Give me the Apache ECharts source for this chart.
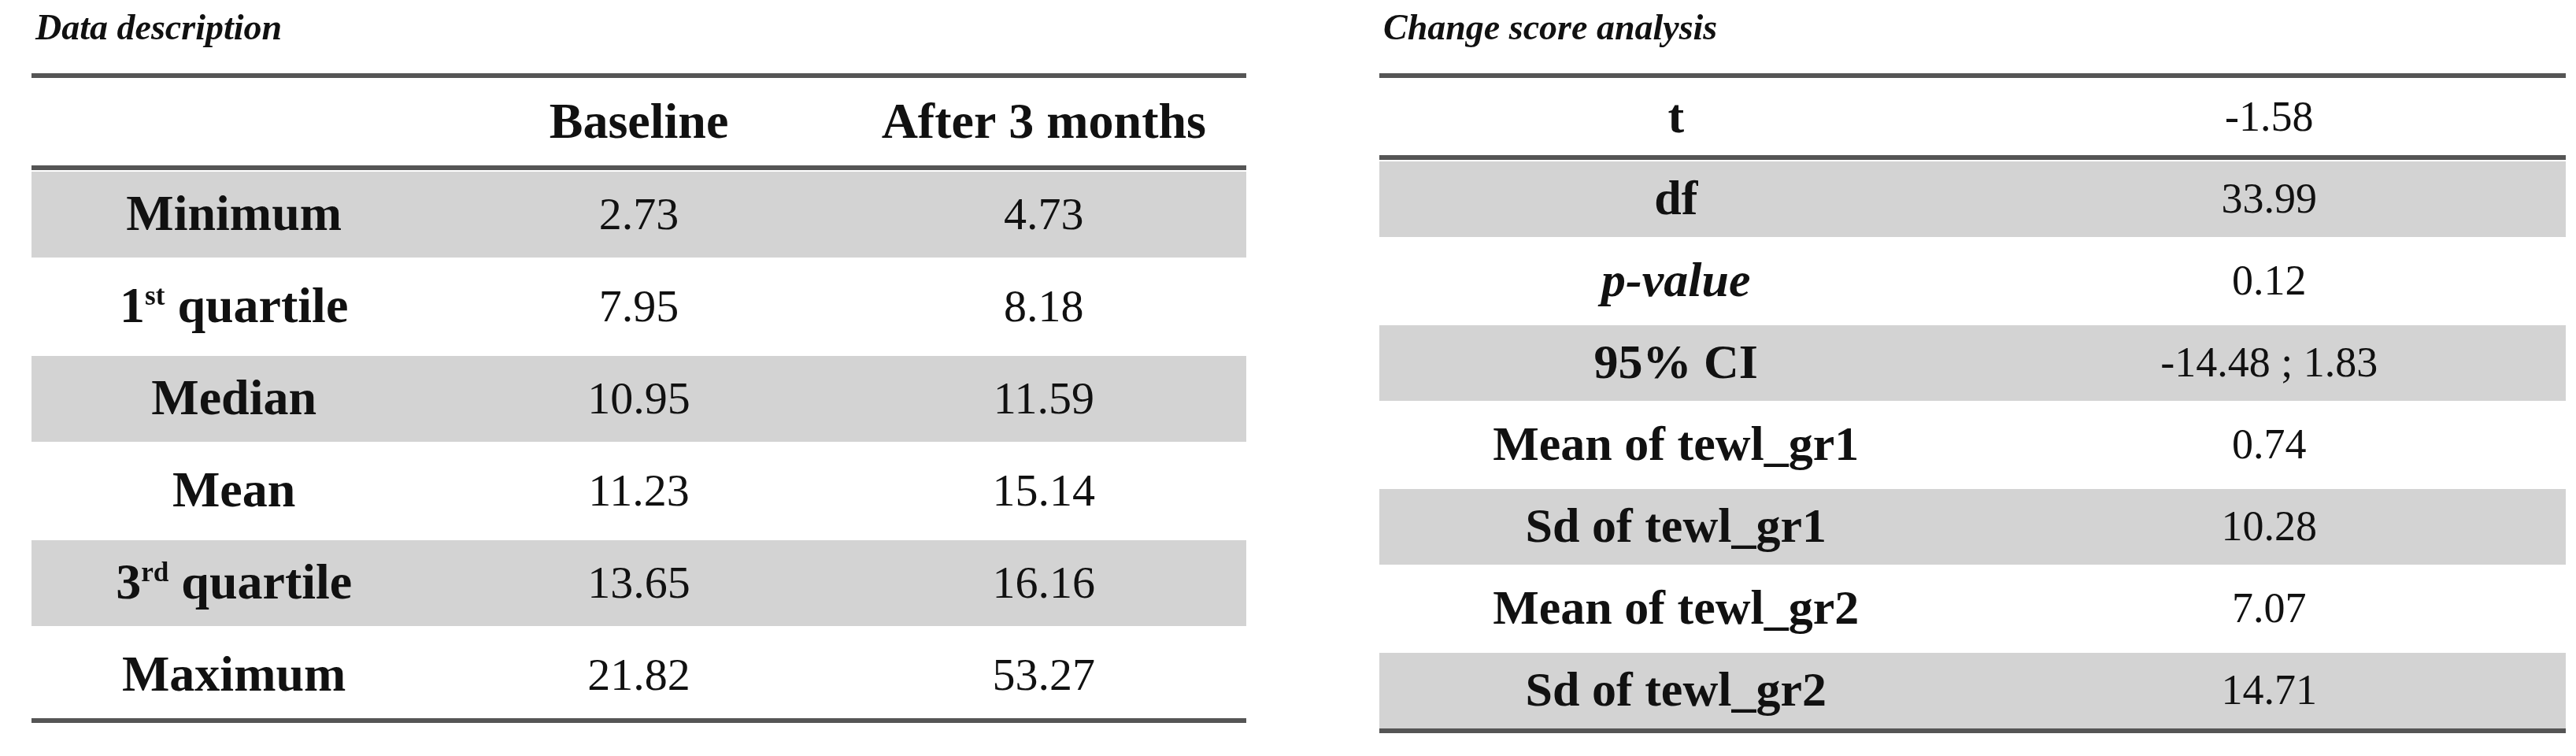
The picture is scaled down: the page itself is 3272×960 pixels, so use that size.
<!DOCTYPE html>
<html>
<head>
<meta charset="utf-8">
<script src="https://cdn.jsdelivr.net/npm/echarts@6/dist/echarts.min.js"></script>
<style>html,body{margin:0;padding:0;background:#fff}#main{width:3272px;height:960px}</style>
</head>
<body>
<div id="main"></div>
<script>
// left table: data description
var descColumns = ['', 'Baseline', 'After 3 months'];
var descRows = ['Minimum', '1st quartile', 'Median', 'Mean', '3rd quartile', 'Maximum'];
var baselineValues = ['2.73', '7.95', '10.95', '11.23', '13.65', '21.82'];
var after3Values = ['4.73', '8.18', '11.59', '15.14', '16.16', '53.27'];

// right table: change score analysis
var changeLabels = ['t', 'df', 'p-value', '95% CI', 'Mean of tewl_gr1', 'Sd of tewl_gr1', 'Mean of tewl_gr2', 'Sd of tewl_gr2'];
var changeValues = ['-1.58', '33.99', '0.12', '-14.48 ; 1.83', '0.74', '10.28', '7.07', '14.71'];

var serif = '"Liberation Serif", "DejaVu Serif", serif';
var ruleColor = '#555555';
var bandColor = '#d3d3d3';

function labelText(s) {
    var m = s.match(/^(\d)(st|nd|rd|th)( .*)$/);
    if (m) return '{b|' + m[1] + '}{sup|' + m[2] + '}{b|' + m[3] + '}';
    return '{b|' + s + '}';
}

// build cells for left table: row 0 is header
var leftCells = [];
descColumns.forEach(function (c, i) { if (c) leftCells.push([i, 0, c, 'head']); });
descRows.forEach(function (r, j) {
    leftCells.push([0, j + 1, r, 'label']);
    leftCells.push([1, j + 1, baselineValues[j], 'value']);
    leftCells.push([2, j + 1, after3Values[j], 'value']);
});
var leftBands = [1, 3, 5];
var leftRules = [0, 1, 7];

var rightCells = [];
changeLabels.forEach(function (l, j) {
    rightCells.push([0, j, l, l === 'p-value' ? 'italic' : 'label']);
    rightCells.push([1, j, changeValues[j], 'value']);
});
var rightBands = [1, 3, 5, 7];
var rightRules = [0, 1, 8];

function cellSeries(idx, cells, labelSize, valueSize) {
    return {
        type: 'custom', xAxisIndex: idx, yAxisIndex: idx, z: 3,
        data: cells,
        encode: { x: 0, y: 1 },
        renderItem: function (params, api) {
            var kind = cells[params.dataIndex][3];
            var txt = cells[params.dataIndex][2];
            var p = api.coord([api.value(0), api.value(1)]);
            var style;
            if (kind === 'value') {
                style = { text: txt, font: valueSize + 'px ' + serif, fill: '#111' };
            } else if (kind === 'italic') {
                style = { text: txt, font: 'italic bold ' + labelSize + 'px ' + serif, fill: '#111' };
            } else {
                style = {
                    text: labelText(txt), fill: '#111',
                    rich: {
                        b: { fontFamily: serif, fontWeight: 'bold', fontSize: labelSize, fill: '#111' },
                        sup: { fontFamily: serif, fontWeight: 'bold', fontSize: labelSize * 0.55, verticalAlign: 'top', padding: [0, 0, labelSize * 0.4, 0], fill: '#111' }
                    }
                };
            }
            style.x = p[0]; style.y = p[1] + 4;
            style.align = 'center'; style.verticalAlign = 'middle';
            return { type: 'text', style: style };
        }
    };
}

function bandSeries(idx, bands) {
    return {
        type: 'custom', xAxisIndex: idx, yAxisIndex: idx, z: 1,
        data: bands.map(function (b) { return [0, b]; }),
        renderItem: function (params, api) {
            var cs = params.coordSys;
            var p = api.coord([0, api.value(1)]);
            var h = api.size([0, 1])[1];
            return { type: 'rect', shape: { x: cs.x, y: p[1] - h / 2 + 5, width: cs.width, height: h - 8 }, style: { fill: bandColor } };
        }
    };
}

function ruleSeries(idx, rules) {
    return {
        type: 'custom', xAxisIndex: idx, yAxisIndex: idx, z: 2,
        data: rules.map(function (r) { return [0, r]; }),
        renderItem: function (params, api) {
            var cs = params.coordSys;
            var p = api.coord([0, api.value(1)]);
            var h = api.size([0, 1])[1];
            var y = p[1] - h / 2;
            return { type: 'line', shape: { x1: cs.x, y1: y, x2: cs.x + cs.width, y2: y }, style: { stroke: ruleColor, lineWidth: 6 } };
        }
    };
}

function rowAxis(idx, n) {
    var d = [];
    for (var i = 0; i < n; i++) d.push(i);
    return { type: 'category', gridIndex: idx, data: d, inverse: true, show: false, boundaryGap: true };
}

var chart = echarts.init(document.getElementById('main'));
chart.setOption({
    backgroundColor: '#ffffff',
    animation: false,
    title: [
        { text: 'Data description', left: 40, top: 10, textStyle: { fontFamily: serif, fontStyle: 'italic', fontWeight: 'bold', fontSize: 46, color: '#111' } },
        { text: 'Change score analysis', left: 1752, top: 10, textStyle: { fontFamily: serif, fontStyle: 'italic', fontWeight: 'bold', fontSize: 46, color: '#111' } }
    ],
    grid: [
        { left: 40, top: 96, width: 1543, height: 819 },
        { left: 1752, top: 96, width: 1507, height: 832 }
    ],
    xAxis: [
        { type: 'category', gridIndex: 0, data: [0, 1, 2], show: false },
        { type: 'category', gridIndex: 1, data: [0, 1], show: false }
    ],
    yAxis: [rowAxis(0, 7), rowAxis(1, 8)],
    series: [
        bandSeries(0, leftBands), ruleSeries(0, leftRules), cellSeries(0, leftCells, 64, 58),
        bandSeries(1, rightBands), ruleSeries(1, rightRules), cellSeries(1, rightCells, 62, 54)
    ]
});
</script>
</body>
</html>
